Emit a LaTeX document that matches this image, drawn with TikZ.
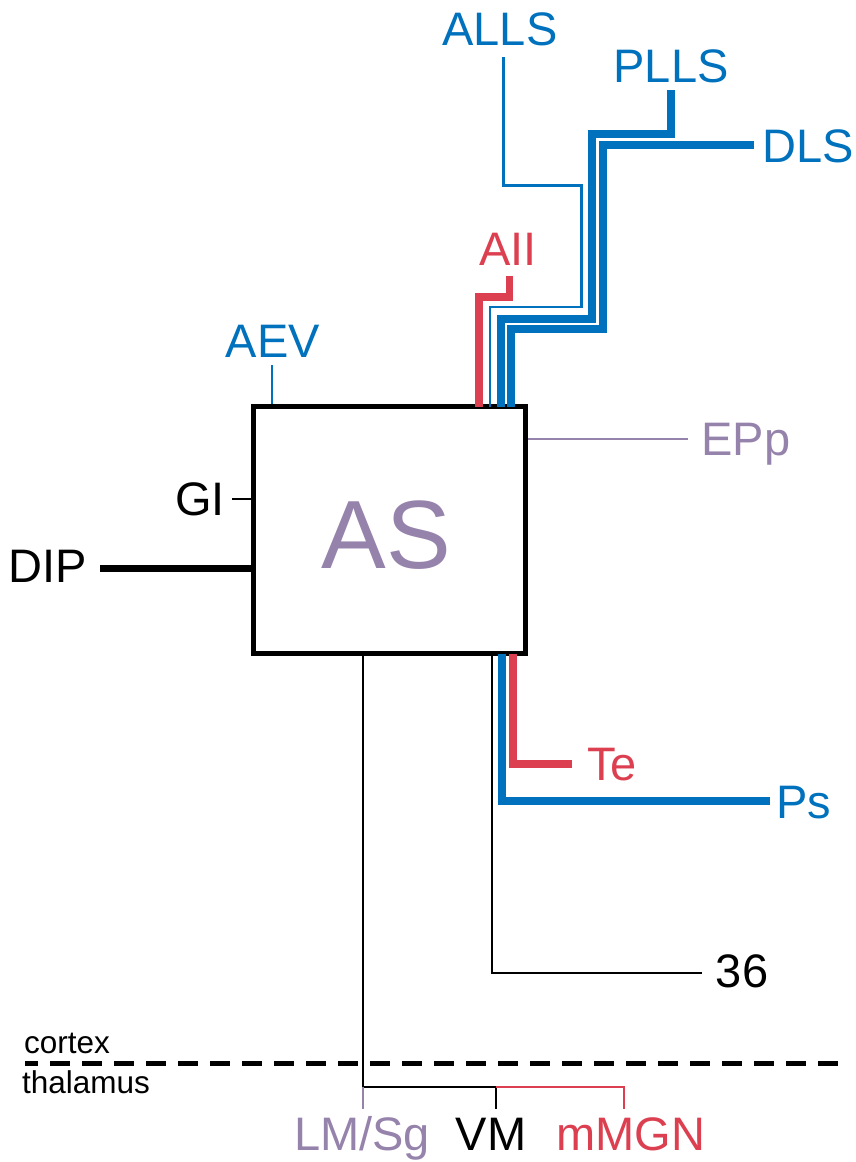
\documentclass[tikz,border=0pt]{standalone}
\usepackage{fontspec}
\setmainfont{Liberation Sans}
\definecolor{cblue}{RGB}{0,113,188}
\definecolor{cred}{RGB}{220,64,80}
\definecolor{cpurple}{RGB}{150,131,172}
\begin{document}
\begin{tikzpicture}[x=1pt,y=-1pt,
  lbl/.style={font=\fontsize{47}{56}\selectfont, inner sep=0pt, anchor=base},
  small/.style={font=\fontsize{31.5}{38}\selectfont, inner sep=0pt, anchor=base west},
  thinln/.style={line width=2.2pt},
  thickln/.style={line width=7.7pt},
  ALLSln/.style={line width=2.7pt, cblue},
  boxstyle/.style={draw, line width=5pt, minimum width=272pt, minimum height=247pt, inner sep=0pt}]
\useasboundingbox (0,0) rectangle (856,1162);

% main box
\node[boxstyle] (box) at (389.5,530) {};
\node[lbl, cpurple, font=\fontsize{97}{110}\selectfont] (AS) at (386,568) {AS};

% labels
\node[lbl, cblue] (ALLS) at (500,45) {ALLS};
\node[lbl, cblue] (PLLS) at (671,82) {PLLS};
\node[lbl, cblue] (DLS) at (808,162) {DLS};
\node[lbl, cred] (AII) at (508,265) {AII};
\node[lbl, cblue] (AEV) at (273,357) {AEV};
\node[lbl, cpurple] (EPp) at (746,455) {EPp};
\node[lbl] (GI) at (200,515) {GI};
\node[lbl] (DIP) at (48,582) {DIP};
\node[lbl, cred] (Te) at (612,780) {Te};
\node[lbl, cblue] (Ps) at (804,818) {Ps};
\node[lbl] (n36) at (742,987) {36};
\node[lbl, cpurple] (LMSg) at (362,1150) {LM/Sg};
\node[lbl] (VM) at (491,1150) {VM};
\node[lbl, cred] (mMGN) at (631,1150) {mMGN};
\node[small] (cortex) at (24,1053) {cortex};
\node[small] (thalamus) at (22,1093) {thalamus};

% connector end points
\coordinate (aevEnd) at (272,365);
\coordinate (alls0) at (490,406.5);
\coordinate (plls0) at (500.7,406.5);
\coordinate (dls0) at (510.7,406.5);
\coordinate (aii0) at (479.3,406.5);
\coordinate (eppEnd) at (688,439);
\coordinate (giEnd) at (232,499);
\coordinate (dipEnd) at (100,568);
\coordinate (teEnd) at (572.3,764);
\coordinate (psEnd) at (770,800.7);
\coordinate (n36End) at (702,973);
\coordinate (junc) at (362.7,1087.3);
\coordinate (vmJ) at (496,1087.3);
\coordinate (mgJ) at (624,1087.3);

% top inputs
\draw[thinln, cblue] (box.north west -| aevEnd) -- (aevEnd);
\draw[thickln, cred] (aii0) |- (509.5,297) -- (509.5,276);
\draw[ALLSln] (alls0) |- (581.7,307) |- (503.3,185.7) -- (503.3,56.7);
\draw[thickln, cblue] (plls0) |- (592.3,318.7) |- (670.7,134) -- (670.7,90);
\draw[thickln, cblue] (dls0) |- (602.7,329.3) |- (754,145.3);

% sides
\draw[thinln, cpurple] (box.east |- eppEnd) -- (eppEnd);
\draw[thinln] (box.west |- giEnd) -- (giEnd);
\draw[line width=7pt] (box.west |- dipEnd) -- (dipEnd);

% bottom outputs
\draw[thinln] (491.7,653.5) |- (n36End);
\draw[thickln, cblue] (502.2,653.5) |- (psEnd);
\draw[thickln, cred] (512.7,653.5) |- (teEnd);

% thalamus
\draw[thinln] (362.7,653.5) -- (junc) -- (vmJ) -- (496,1109);
\draw[thinln, cred] (vmJ) -- (mgJ) -- (624,1109);
\draw[thinln, cpurple] (junc) -- (362.7,1109);

% cortex/thalamus border
\draw[line width=5pt, dash pattern=on 20pt off 12pt, dash phase=7pt] (25,1063) -- (850,1063);
\end{tikzpicture}
\end{document}
